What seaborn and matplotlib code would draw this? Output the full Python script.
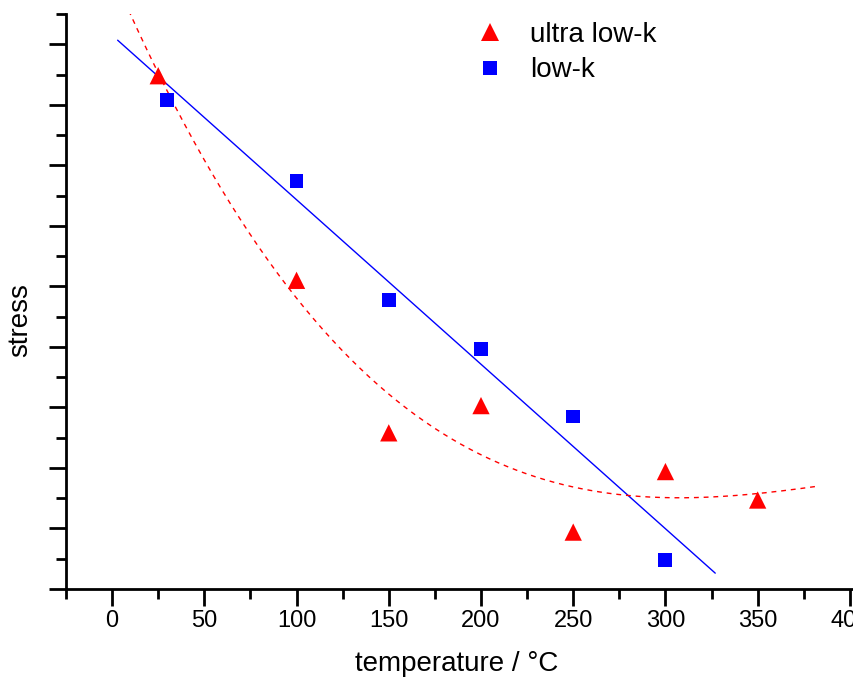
import numpy as np
import pandas as pd
import matplotlib
matplotlib.use("Agg")
import matplotlib.pyplot as plt
import seaborn as sns
from matplotlib.ticker import MultipleLocator, NullFormatter
from matplotlib.lines import Line2D

# data
ulk_temp = [25, 100, 150, 200, 250, 300, 350]
ulk_stress = [8.48, 5.10, 2.58, 3.03, 0.94, 1.94, 1.47]
lk_temp = [30, 100, 150, 200, 250, 300]
lk_stress = [8.08, 6.74, 4.78, 3.97, 2.85, 0.48]
series_names = ["ultra low-k", "low-k"]
x_ticks = [0, 50, 100, 150, 200, 250, 300, 350, 400]

sns.set_style("ticks", rc={"text.color": "black", "axes.labelcolor": "black",
                           "xtick.color": "black", "ytick.color": "black",
                           "axes.edgecolor": "black"})
plt.rcParams['font.family'] = ['Liberation Sans', 'DejaVu Sans']

df = pd.DataFrame({
    "temperature": ulk_temp + lk_temp,
    "stress": ulk_stress + lk_stress,
    "series": [series_names[0]] * len(ulk_temp) + [series_names[1]] * len(lk_temp),
})

fig = plt.figure(figsize=(8.54, 6.82), dpi=100)
ax = fig.add_axes([66/854, 93/682, 830/854, 575/682])

# fits
lin = np.polyfit(lk_temp, lk_stress, 1)
xl = np.linspace(3, 327, 50)
sns.lineplot(x=xl, y=np.polyval(lin, xl), color="blue", lw=1, ax=ax)
cub = np.polyfit(ulk_temp, ulk_stress, 3)
xq = np.linspace(9, 383, 300)
sns.lineplot(x=xq, y=np.polyval(cub, xq), color="red", lw=1, ax=ax,
             linestyle=(0, (3.5, 3.5)))

sns.scatterplot(data=df, x="temperature", y="stress", hue="series", style="series",
                palette={series_names[0]: "red", series_names[1]: "blue"},
                markers={series_names[0]: "^", series_names[1]: "s"},
                s=150, linewidth=0, ax=ax, legend=False, zorder=3)
ax.collections[-1].set_sizes([155 if p else 100 for p in (df["series"] == series_names[0])])

ax.set_xlim(-25, 425)
ax.set_ylim(0, 9.5)
ax.set_xticks(x_ticks)
ax.xaxis.set_minor_locator(MultipleLocator(25))
ax.yaxis.set_major_locator(MultipleLocator(1))
ax.yaxis.set_minor_locator(MultipleLocator(0.5))
ax.yaxis.set_major_formatter(NullFormatter())
ax.tick_params(axis="both", which="major", length=12, width=2, labelsize=17,
               direction="out", pad=3, colors="black")
ax.tick_params(axis="both", which="minor", length=7, width=2, direction="out")
for s in ["top", "right"]:
    ax.spines[s].set_visible(False)
for s in ["left", "bottom"]:
    ax.spines[s].set_linewidth(2)
    ax.spines[s].set_color("black")

ax.set_xlabel("temperature / °C", fontsize=20)
ax.set_ylabel("stress", fontsize=20)
ax.xaxis.set_label_coords(391/830, -62/575)
ax.yaxis.set_label_coords(-33/830, 269/575)

handles = [Line2D([], [], marker="^", color="red", ls="none", markersize=13, markeredgewidth=0),
           Line2D([], [], marker="s", color="blue", ls="none", markersize=9.5, markeredgewidth=0)]
ax.legend(handles, series_names, loc="upper left", bbox_to_anchor=(392/830, 1.006),
          frameon=False, fontsize=20, handlelength=1.5, handletextpad=0.7,
          labelspacing=0.35, borderaxespad=0, borderpad=0.4)

fig.savefig("out.png", dpi=100)
